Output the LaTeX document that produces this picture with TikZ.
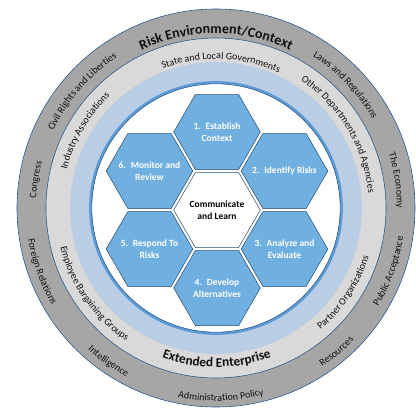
\documentclass[tikz,border=0pt]{standalone}
\usepackage{fontspec}
\setmainfont{Carlito}
\usetikzlibrary{shapes.geometric,decorations.text}
\definecolor{darkring}{HTML}{A6A6A6}
\definecolor{lightring}{HTML}{D9D9D9}
\definecolor{bluering}{HTML}{B9CDE5}
\definecolor{bluerim}{HTML}{5B9BD5}
\definecolor{edgeblue}{HTML}{2E5C8A}
\definecolor{hexblue}{HTML}{70B0E0}
\definecolor{textdark}{HTML}{111111}
\newcommand\ringfont{\fontsize{10pt}{11pt}\selectfont\color{textdark}}
\newcommand\ringbig{\fontsize{14pt}{15pt}\selectfont\bfseries\color{textdark}}
\newcommand\ringmid{\fontsize{13.3pt}{14pt}\selectfont\bfseries\color{textdark}}
% clockwise text (upper half): angle, baseline radius, font, text
\newcommand\cwtext[4]{\path[decorate,decoration={text along path,text={|#3|#4},text align=center}]
  ({#1+75}:#2pt) arc[start angle={#1+75},end angle={#1-75},radius=#2pt];}
% counter-clockwise text (lower half)
\newcommand\ccwtext[4]{\path[decorate,decoration={text along path,text={|#3|#4},text align=center}]
  ({#1-75}:#2pt) arc[start angle={#1-75},end angle={#1+75},radius=#2pt];}
\tikzset{
  hexa/.style={regular polygon,regular polygon sides=6,minimum size=86.6pt,inner sep=0pt,outer sep=0pt,
    draw=edgeblue!80!black,line width=0.5pt,fill=hexblue},
  hexwhite/.style={hexa,fill=white},
  hextext/.style={align=center,font=\fontsize{9.5pt}{12.5pt}\selectfont\bfseries,text=white},
  hexctext/.style={align=center,font=\fontsize{9.5pt}{12.5pt}\selectfont\bfseries,text=black}
}
\begin{document}
\begin{tikzpicture}[x=1pt,y=1pt]
\useasboundingbox[fill=white] (-216,-200) rectangle (200,208);
% rings
\fill[darkring] (0,0) circle[radius=199pt];
\draw[edgeblue,line width=0.6pt] (0,0) circle[radius=199pt];
\fill[lightring] (0,0) circle[radius=170pt];
\draw[edgeblue,line width=0.6pt] (0,0) circle[radius=170pt];
\fill[bluering] (0,0) circle[radius=146pt];
\fill[white] (0,0) circle[radius=124pt];
\draw[bluerim,line width=2.5pt] (0,0) circle[radius=125.6pt];
\draw[edgeblue,line width=0.6pt] (0,0) circle[radius=124.2pt];
% outer ring texts
\cwtext{90}{174.5}{\ringbig}{Risk Environment/Context}
\cwtext{139}{180}{\ringfont}{Civil Rights and Liberties}
\cwtext{43.5}{180}{\ringfont}{Laws and Regulations}
\cwtext{171}{180}{\ringfont}{Congress}
\cwtext{8.7}{181}{\ringfont}{The Economy}
\ccwtext{200}{190.5}{\ringfont}{Foreign Relations}
\ccwtext{235}{191}{\ringfont}{Intelligence}
\ccwtext{271.5}{193}{\ringfont}{Administration Policy}
\ccwtext{310}{191}{\ringfont}{Resources}
\ccwtext{340}{189.5}{\ringfont}{Public Acceptance}
% middle ring texts
\cwtext{88}{149}{\ringfont}{State and Local Governments}
\cwtext{31}{153}{\ringfont}{Other Departments and Agencies}
\cwtext{149.5}{154}{\ringfont}{Industry Associations}
\ccwtext{215}{160.5}{\ringfont}{Employee Bargaining Groups}
\ccwtext{326.5}{160.5}{\ringfont}{Partner Organizations}
\ccwtext{270.3}{159}{\ringmid}{Extended Enterprise}
% hexagons
\node[hexwhite] (hc) at (1,-2) {};
\node[hexa] (h1) at (1,76) {};
\node[hexa] (h2) at (68.5,37) {};
\node[hexa] (h3) at (68.5,-41) {};
\node[hexa] (h4) at (1,-80) {};
\node[hexa] (h5) at (-66.5,-41) {};
\node[hexa] (h6) at (-66.5,37) {};
\node[hexctext] (tc) at (hc) {Communicate\\and Learn};
\node[hextext] (t1) at (h1) {1.\enspace Establish\\Context};
\node[hextext] (t2) at (h2) {2.\enspace Identify Risks};
\node[hextext] (t3) at (h3) {3.\enspace Analyze and\\Evaluate};
\node[hextext] (t4) at (h4) {4.\enspace Develop\\Alternatives};
\node[hextext] (t5) at (h5) {5.\enspace Respond To\\Risks};
\node[hextext] (t6) at (h6) {6.\enspace Monitor and\\Review};
\end{tikzpicture}
\end{document}
